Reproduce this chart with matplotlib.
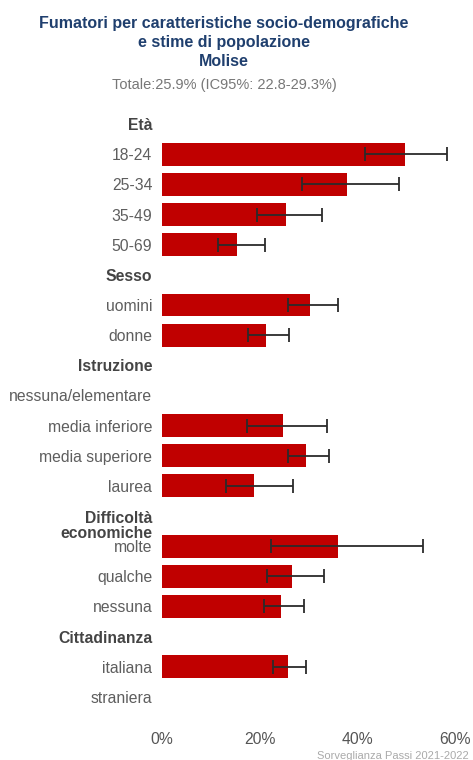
import numpy as np
import matplotlib
matplotlib.use("Agg")
import matplotlib.pyplot as plt
from matplotlib.transforms import ScaledTranslation

plt.rcParams['font.family'] = ['Liberation Sans', 'DejaVu Sans']

# Gruppi e modalità (stime % e intervalli di confidenza al 95%)
gruppi = ["Età", "Sesso", "Istruzione", "Difficoltà\neconomiche", "Cittadinanza"]
modalita = [
    ["18-24", "25-34", "35-49", "50-69"],
    ["uomini", "donne"],
    ["nessuna/elementare", "media inferiore", "media superiore", "laurea"],
    ["molte", "qualche", "nessuna"],
    ["italiana", "straniera"],
]
stime = [
    [49.8, 37.8, 25.4, 15.3],
    [30.3, 21.3],
    [np.nan, 24.7, 29.5, 18.8],
    [36.1, 26.7, 24.4],
    [25.7, np.nan],
]
ic_inf = [
    [41.6, 28.6, 19.5, 11.4],
    [25.7, 17.7],
    [np.nan, 17.5, 25.7, 13.2],
    [22.3, 21.6, 20.9],
    [22.8, np.nan],
]
ic_sup = [
    [58.3, 48.5, 32.7, 21.1],
    [36.1, 26.1],
    [np.nan, 33.7, 34.3, 26.9],
    [53.5, 33.2, 29.1],
    [29.4, np.nan],
]
x_ticks = [0, 20, 40, 60]

titolo = "Fumatori per caratteristiche socio-demografiche\ne stime di popolazione\nMolise"
sottotitolo = "Totale:25.9% (IC95%: 22.8-29.3%)"
fonte = "Sorveglianza Passi 2021-2022"

# righe: intestazione di gruppo seguita dalle sue modalità
etichette, valori, bassi, alti, intestazioni = [], [], [], [], []
for g, mods, v, lo, hi in zip(gruppi, modalita, stime, ic_inf, ic_sup):
    intestazioni.append(len(etichette))
    etichette.append(g)
    valori.append(np.nan); bassi.append(np.nan); alti.append(np.nan)
    etichette += mods
    valori += v; bassi += lo; alti += hi

valori = np.array(valori)
bassi = np.array(bassi)
alti = np.array(alti)
y = np.arange(len(etichette))

fig = plt.figure(figsize=(4.73, 7.6), dpi=100)
ax = fig.add_axes([162 / 473, 1 - 712 / 760, (455 - 162) / 473, (712 - 109) / 760])

rosso = "#c00000"
ok = ~np.isnan(valori)
ax.barh(y[ok], valori[ok], height=0.76, color=rosso, edgecolor="none")
ax.errorbar(valori[ok], y[ok],
            xerr=[valori[ok] - bassi[ok], alti[ok] - valori[ok]],
            fmt="none", ecolor="#2b2b2b", elinewidth=1.3, capsize=4.7, capthick=1.3)

ax.set_xlim(0, 60)
ax.set_ylim(len(etichette) - 0.5, -0.5)
ax.set_xticks(x_ticks)
ax.set_xticklabels([f"{t}%" for t in x_ticks], fontsize=11.3, color="#555555")
ax.set_yticks(y)
ax.set_yticklabels(etichette, fontsize=11.3, color="#5e5e5e")
ax.tick_params(axis="both", length=0)
ax.tick_params(axis="y", pad=7)
ax.tick_params(axis="x", pad=14.5)
for s in ax.spines.values():
    s.set_visible(False)

for i, lab in enumerate(ax.get_yticklabels()):
    if i in intestazioni:
        lab.set_fontweight("bold")
        lab.set_color("#444444")
        if "\n" in lab.get_text():
            lab.set_linespacing(1.05)
            lab.set_transform(lab.get_transform() + ScaledTranslation(0, -6 / 72, fig.dpi_scale_trans))

fig.text(224 / 473, 1 - 16 / 760, titolo, ha="center", va="top", fontsize=11.5,
         fontweight="bold", color="#1f3f6e", linespacing=1.32)
fig.text(224 / 473, 1 - 85 / 760, sottotitolo, ha="center", va="center", fontsize=10.5,
         color="#777777")
fig.text(469 / 473, 1 - 756 / 760, fonte, ha="right", va="center", fontsize=8,
         color="#aaaaaa")

fig.savefig("out.png", dpi=100, facecolor="white")
